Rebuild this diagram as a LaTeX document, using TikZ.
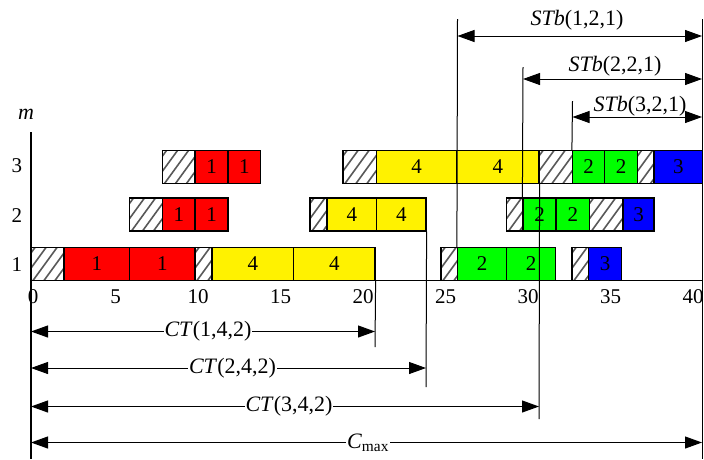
\documentclass[tikz,border=0pt]{standalone}
\usepackage{fontspec}
\setmainfont{Liberation Serif}
\usetikzlibrary{arrows.meta}
\newcommand\seg[6]{\node[segbox, fill=#5, minimum width={(#3-#2)*1pt}] (#1) at ({(#2+#3)/2},{#4}) {#6};}
\newcommand\hseg[4]{%
  \begin{scope}
    \clip ({#2},{#4-16.5}) rectangle ({#3},{#4+16.5});
    \foreach \k in {0,...,5} {\draw[hatchline] ({#2+\k*11-20},{#4+16.5}) -- ++(24,-33);}
  \end{scope}
  \node[segbox, minimum width={(#3-#2)*1pt}] (#1) at ({(#2+#3)/2},{#4}) {};}
\begin{document}
\begin{tikzpicture}[x=1pt,y=-1pt,
  segbox/.style={draw=black, line width=1.2pt, inner sep=0pt, minimum height=33pt, font=\fontsize{21}{24}\selectfont},
  hatchline/.style={line width=1.6pt, black!65},
  axisline/.style={line width=1.2pt},
  guide/.style={line width=1pt},
  dim/.style={line width=1pt, {Triangle[length=17pt,width=12pt]}-{Triangle[length=17pt,width=12pt]}},
  lbl/.style={font=\fontsize{22}{26}\selectfont, inner sep=1pt},
  tick/.style={font=\fontsize{21}{24}\selectfont, inner sep=0pt},
]
\useasboundingbox (0,0) rectangle (704,459);

% row 1
\hseg{h1a}{31}{64}{264}
\seg{r1a}{64}{129.5}{264}{red}{1}
\seg{r1b}{129.5}{195}{264}{red}{1}
\hseg{h1b}{195}{212}{264}
\seg{y1a}{212}{293.5}{264}{yellow}{4}
\seg{y1b}{293.5}{375}{264}{yellow}{4}
\hseg{h1c}{441}{457.5}{264}
\seg{g1a}{457.5}{506.5}{264}{green}{2}
\seg{g1b}{506.5}{555.5}{264}{green}{2}
\hseg{h1d}{572}{588.5}{264}
\seg{b1a}{588.5}{621.5}{264}{blue}{3}
% row 2
\hseg{h2a}{129.5}{162.5}{214.5}
\seg{r2a}{162.5}{195}{214.5}{red}{1}
\seg{r2b}{195}{228}{214.5}{red}{1}
\hseg{h2b}{310}{327}{214.5}
\seg{y2a}{327}{376.5}{214.5}{yellow}{4}
\seg{y2b}{376.5}{426}{214.5}{yellow}{4}
\hseg{h2c}{506.5}{523}{214.5}
\seg{g2a}{523}{556}{214.5}{green}{2}
\seg{g2b}{556}{589.5}{214.5}{green}{2}
\hseg{h2d}{589.5}{623}{214.5}
\seg{b2a}{623}{654}{214.5}{blue}{3}
% row 3
\hseg{h3a}{162.5}{195}{167}
\seg{r3a}{195}{228}{167}{red}{1}
\seg{r3b}{228}{260.5}{167}{red}{1}
\hseg{h3b}{343}{376.5}{167}
\seg{y3a}{376.5}{456.5}{167}{yellow}{4}
\seg{y3b}{456.5}{539}{167}{yellow}{4}
\hseg{h3c}{539}{572.5}{167}
\seg{g3a}{572.5}{604.5}{167}{green}{2}
\seg{g3b}{604.5}{637.5}{167}{green}{2}
\hseg{h3d}{637.5}{654}{167}
\seg{b3a}{654}{702.5}{167}{blue}{3}

% axes
\coordinate (ytop) at (31,132);
\coordinate (ybot) at (31,459);
\coordinate (o) at (31,280.5);
\coordinate (xend) at (702,280.5);
\coordinate (rtop) at (702,19);
\coordinate (rbot) at (702,459);
\draw[axisline] (ytop) -- (ybot);
\draw[axisline] (o) -- (xend);
\draw[guide] (rtop) -- (rbot);

\node[lbl, font=\fontsize{22}{26}\selectfont\itshape] (mlab) at (26,114) {m};
\node[tick] (row3) at (17,166) {3};
\node[tick] (row2) at (17,216) {2};
\node[tick] (row1) at (17,265) {1};

\foreach \v/\px in {0/33,5/115.5,10/198,15/280.5,20/363,25/445.5,30/528,35/610.5,40/693}
  \node[tick] (t\v) at (\px,297) {\v};

% guide lines
\coordinate (s1top) at (457.5,19);
\coordinate (s2top) at (523,67);
\coordinate (s3top) at (572.5,101);
\draw[guide] (s1top) -- (g1a.north west);
\draw[guide] (s2top) -- (g2a.north west);
\draw[guide] (s3top) -- (g3a.north west);
\coordinate (c1bot) at (375,347);
\coordinate (c2bot) at (426,387);
\coordinate (c3bot) at (539,419);
\draw[guide] (y1b.south east) -- (c1bot);
\draw[guide] (y2b.south east) -- (c2bot);
\draw[guide] (y3b.south east) -- (c3bot);

% STb arrows
\coordinate (a1l) at (457.5,36);  \coordinate (a1r) at (702,36);
\coordinate (a2l) at (523,79);    \coordinate (a2r) at (702,79);
\coordinate (a3l) at (572.5,117); \coordinate (a3r) at (702,117);
\draw[dim] (a1l) -- (a1r);
\draw[dim] (a2l) -- (a2r);
\draw[dim] (a3l) -- (a3r);
\node[lbl] (stb1) at (577,20) {\textit{STb}(1,2,1)};
\node[lbl] (stb2) at (615,66) {\textit{STb}(2,2,1)};
\node[lbl] (stb3) at (640,106) {\textit{STb}(3,2,1)};

% CT arrows
\coordinate (b1l) at (31,331.5);  \coordinate (b1r) at (375,331.5);
\coordinate (b2l) at (31,368);    \coordinate (b2r) at (426,368);
\coordinate (b3l) at (31,406.5);  \coordinate (b3r) at (539,406.5);
\coordinate (b4l) at (31,442.5);  \coordinate (b4r) at (702,442.5);
\draw[dim] (b1l) -- (b1r);
\draw[dim] (b2l) -- (b2r);
\draw[dim] (b3l) -- (b3r);
\draw[dim] (b4l) -- (b4r);
\node[lbl, fill=white] (ct1) at (208,331.5) {\textit{CT}(1,4,2)};
\node[lbl, fill=white] (ct2) at (232.5,368) {\textit{CT}(2,4,2)};
\node[lbl, fill=white] (ct3) at (289,406.5) {\textit{CT}(3,4,2)};
\node[lbl, fill=white] (cmax) at (368,442.5) {\textit{C}\textsubscript{max}};
\end{tikzpicture}
\end{document}
